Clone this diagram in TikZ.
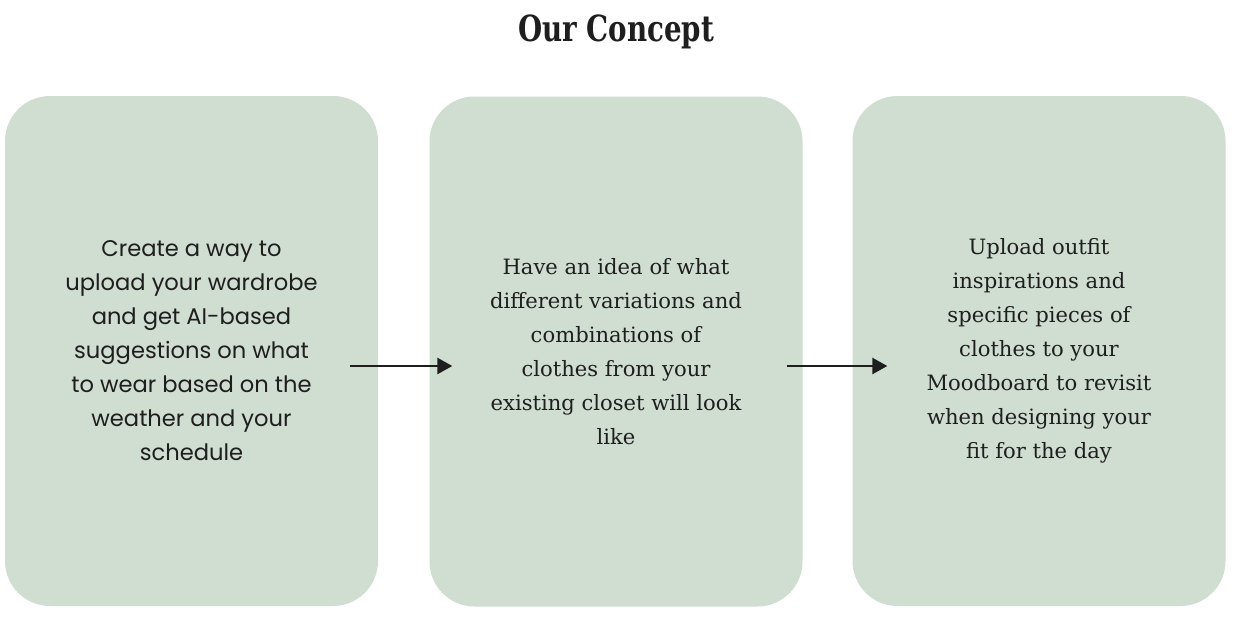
\documentclass[tikz,border=0pt]{standalone}
\usepackage{fontspec}
\usepackage{graphicx}
\setmainfont{DejaVu Serif}
\newfontfamily\popfont{Poppins}
\usetikzlibrary{arrows.meta}
\definecolor{sage}{HTML}{D0DDD1}
\definecolor{ink}{HTML}{1E1E1E}
\tikzset{
  card/.style={fill=sage, draw=none, rounded corners=45pt, minimum width=373pt, minimum height=510pt, inner sep=0pt, align=center, text=ink},
  sanstext/.style={font=\popfont\fontsize{22.6}{34}\selectfont},
  seriftext/.style={font=\fontsize{21.1}{34}\selectfont},
  flow/.style={line width=2.6pt, draw=ink, -{Triangle[length=15pt,width=16pt]}}
}
\begin{document}
\begin{tikzpicture}[x=1pt,y=-1pt]
\useasboundingbox (0,0) rectangle (1252,626);
\node[font=\bfseries\fontsize{36}{40}\selectfont, text=ink, inner sep=0pt] (title) at (616,32) {\scalebox{0.77}[1]{Our Concept}};
\node[card, sanstext] (b1) at (191.5,351) {Create a way to\\upload your wardrobe\\and get AI-based\\suggestions on what\\to wear based on the\\weather and your\\schedule};
\node[card, seriftext] (b2) at (616,351.5) {Have an idea of what\\different variations and\\combinations of\\clothes from your\\existing closet will look\\like};
\node[card, seriftext] (b3) at (1039,351) {Upload outfit\\inspirations and\\specific pieces of\\clothes to your\\Moodboard to revisit\\when designing your\\fit for the day};
\draw[flow] ([xshift=-28pt,yshift=-15pt]b1.east) -- ([xshift=23pt,yshift=-14.5pt]b2.west);
\draw[flow] ([xshift=-16pt,yshift=-14.5pt]b2.east) -- ([xshift=35pt,yshift=-15pt]b3.west);
\end{tikzpicture}
\end{document}
